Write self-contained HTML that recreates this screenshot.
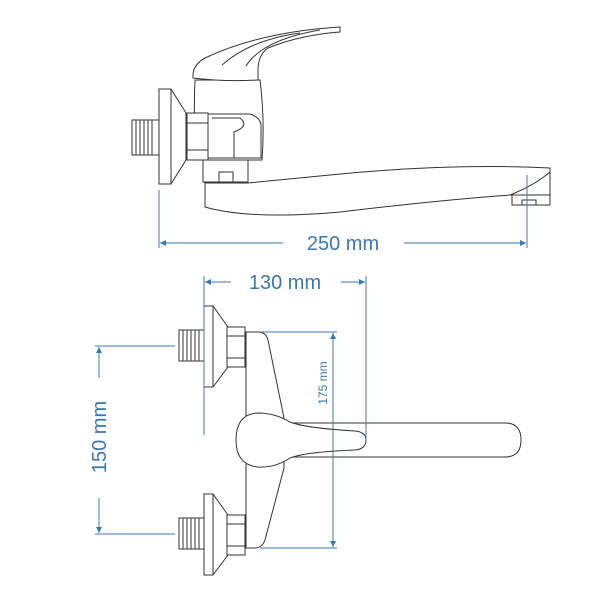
<!DOCTYPE html>
<html><head><style>html,body{margin:0;padding:0;background:#fff}svg{display:block}</style></head><body>
<svg width="600" height="600" viewBox="0 0 600 600" xmlns="http://www.w3.org/2000/svg">
<defs>
<marker id="a" viewBox="0 0 10 10" refX="10" refY="5" markerWidth="8" markerHeight="6" orient="auto-start-reverse" markerUnits="userSpaceOnUse"><path d="M0,0 L10,5 L0,10 z" fill="#3a78b5"/></marker>
</defs>
<g fill="#fff" stroke="#333" stroke-width="1">
<!-- TOP VIEW -->
<!-- thread -->
<rect x="132" y="120" width="27" height="35"/>
<g stroke="#555" stroke-width="1.2">
<line x1="136" y1="120" x2="136" y2="155"/><line x1="140" y1="120" x2="140" y2="155"/><line x1="144" y1="120" x2="144" y2="155"/><line x1="148" y1="120" x2="148" y2="155"/><line x1="152" y1="120" x2="152" y2="155"/>
</g>
<polygon points="159,89 171,89 186,113 186,160 171,184 159,184"/>
<line x1="171" y1="89" x2="171" y2="184"/>
<!-- body -->
<path d="M195,80 L260,80 Q265,120 262,160 L197,160 Q193,120 195,80 Z"/>
<rect x="203" y="160" width="45" height="22"/>
<rect x="219" y="172" width="14" height="10"/>
<path d="M208,114 L250,114 Q262,118 261,128 L261,158 L208,158 Z"/>
<path d="M212,118 L240,118 Q250,126 234,132 L234,158"/>
<rect x="187" y="113" width="21" height="47"/>
<line x1="187" y1="123" x2="208" y2="123"/><line x1="187" y1="150" x2="208" y2="150"/>
<!-- handle -->
<path d="M193,78 Q192,65 205,58 Q260,32 340,27 L340,32 Q300,35 268,48 Q258,55 258,70 L258,80 Q225,82 193,78 Z"/>
<path d="M222,65 Q250,40 300,33" fill="none"/>
<path d="M246,66 Q262,40 320,30" fill="none"/>
<!-- spout -->
<path d="M205,183 L248,183 Q280,180 330,175 Q450,163 550,168 L550,195 L510,195 Q440,200 340,212 Q250,220 205,207 Z"/>
<path d="M510,195 Q535,185 550,172" fill="none"/>
<rect x="512" y="195" width="38" height="10"/>
<rect x="522" y="200" width="14" height="5"/>
<!-- BOTTOM VIEW -->
<g id="conn">
<rect x="179" y="330" width="25" height="31"/>
<g stroke="#555" stroke-width="1.2"><line x1="183" y1="330" x2="183" y2="361"/><line x1="187" y1="330" x2="187" y2="361"/><line x1="191" y1="330" x2="191" y2="361"/><line x1="195" y1="330" x2="195" y2="361"/><line x1="199" y1="330" x2="199" y2="361"/></g>
<polygon points="204,306 213,306 228,327 228,367 213,387 204,387"/>
<line x1="213" y1="306" x2="213" y2="387"/>
<rect x="227" y="327" width="18" height="40"/>
<line x1="227" y1="336" x2="245" y2="336"/><line x1="227" y1="358" x2="245" y2="358"/>
</g>
<g transform="translate(0,188)">
<rect x="179" y="330" width="25" height="31"/>
<g stroke="#555" stroke-width="1.2"><line x1="183" y1="330" x2="183" y2="361"/><line x1="187" y1="330" x2="187" y2="361"/><line x1="191" y1="330" x2="191" y2="361"/><line x1="195" y1="330" x2="195" y2="361"/><line x1="199" y1="330" x2="199" y2="361"/></g>
<polygon points="204,306 213,306 228,327 228,367 213,387 204,387"/>
<line x1="213" y1="306" x2="213" y2="387"/>
<rect x="227" y="327" width="18" height="40"/>
<line x1="227" y1="336" x2="245" y2="336"/><line x1="227" y1="358" x2="245" y2="358"/>
</g>
<path d="M246,332 L258,332 Q266,332 268,340 L284,418 L284,468 L265,540 Q262,548 255,548 L246,548 Z"/>
<!-- bar spout -->
<path d="M290,423 L505,423 Q521,423 521,440 Q521,457 505,457 L290,457 Z"/>
<!-- lever -->
<path d="M258,413 Q275,413 290,422 Q305,428 355,431 Q366,432 366,440 Q366,449 355,450 Q305,452 290,458 Q275,468 258,467 Q236,465 236,440 Q236,414 258,413 Z"/>
</g>
<!-- DIMENSIONS -->
<g stroke="#3a78b5" stroke-width="1" fill="none">
<line x1="159" y1="190" x2="159" y2="248"/>
<line x1="527" y1="175" x2="527" y2="248"/>
<line x1="160" y1="243" x2="283" y2="243" marker-start="url(#a)"/>
<line x1="404" y1="243" x2="526" y2="243" marker-end="url(#a)"/>
<line x1="204" y1="276" x2="204" y2="435"/>
<line x1="366" y1="276" x2="366" y2="440"/>
<line x1="205" y1="282" x2="231" y2="282" marker-start="url(#a)"/>
<line x1="341" y1="282" x2="365" y2="282" marker-end="url(#a)"/>
<line x1="260" y1="332" x2="337" y2="332"/>
<line x1="260" y1="548" x2="337" y2="548"/>
<line x1="333" y1="333" x2="333" y2="547" marker-start="url(#a)" marker-end="url(#a)"/>
<line x1="95" y1="346" x2="175" y2="346"/>
<line x1="95" y1="534" x2="175" y2="534"/>
<line x1="99" y1="347" x2="99" y2="378" marker-start="url(#a)"/>
<line x1="99" y1="498" x2="99" y2="533" marker-end="url(#a)"/>
</g>
<g fill="#3a78b5" font-family="Liberation Sans, sans-serif">
<text x="343" y="250" font-size="20" text-anchor="middle">250 mm</text>
<text x="285" y="289" font-size="20" text-anchor="middle">130 mm</text>
<text transform="translate(327,383) rotate(-90)" font-size="12" text-anchor="middle">175 mm</text>
<text transform="translate(106,437) rotate(-90)" font-size="20" text-anchor="middle">150 mm</text>
</g>
</svg>
</body></html>
